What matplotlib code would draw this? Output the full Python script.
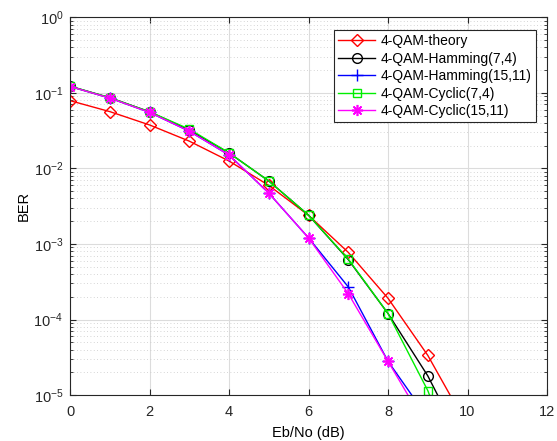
import numpy as np
import matplotlib
matplotlib.use("Agg")
from matplotlib import pyplot as plt
from matplotlib.ticker import LogLocator, NullFormatter

plt.rcParams['font.family'] = ['Liberation Sans', 'DejaVu Sans']

ebno = [0, 1, 2, 3, 4, 5, 6, 7, 8, 9, 10]

theory = [0.0786, 0.0563, 0.0375, 0.0229, 0.0125, 0.00595, 0.00239, 0.000773, 0.000191, 3.36e-5, 3.9e-6]
ham74 = [0.122, 0.086, 0.056, 0.032, 0.016, 0.0068, 0.0024, 0.00062, 0.00012, 1.8e-5, 1.7e-6]
ham1511 = [0.121, 0.085, 0.055, 0.031, 0.015, 0.0047, 0.0012, 0.00027, 2.8e-5, 5e-6, 6e-7]
cyc74 = [0.122, 0.086, 0.056, 0.033, 0.016, 0.0068, 0.0024, 0.00063, 0.00012, 1.15e-5, 5e-7]
cyc1511 = [0.121, 0.085, 0.055, 0.031, 0.015, 0.0047, 0.0012, 0.00022, 2.8e-5, 3.6e-6, 4e-7]

fig = plt.figure(figsize=(5.57, 4.41), dpi=100)
ax = fig.add_axes([0.126, 0.104, 0.856, 0.857])

ax.semilogy(ebno, theory, color='red', marker='D', mfc='none', ms=6.5, lw=1, label='4-QAM-theory')
ax.semilogy(ebno, ham74, color='black', marker='o', mfc='none', ms=7, lw=1, label='4-QAM-Hamming(7,4)')
ax.semilogy(ebno, ham1511, color='blue', marker='+', ms=8, lw=1, label='4-QAM-Hamming(15,11)')
ax.semilogy(ebno, cyc74, color='#00ee00', marker='s', mfc='none', ms=6, lw=1, label='4-QAM-Cyclic(7,4)')
ax.semilogy(ebno, cyc1511, color='magenta', marker=(8, 2, 0), ms=8, mew=1.2, lw=1, label='4-QAM-Cyclic(15,11)')

ax.set_xlim(0, 12)
ax.set_ylim(1e-5, 1)
ax.set_xticks([0, 2, 4, 6, 8, 10, 12])
ax.yaxis.set_major_locator(LogLocator(base=10, numticks=10))
ax.yaxis.set_minor_locator(LogLocator(base=10, subs=np.arange(2, 10), numticks=20))
ax.yaxis.set_minor_formatter(NullFormatter())

ax.grid(True, which='major', color='#dcdcdc', lw=0.8)
ax.grid(True, which='minor', axis='y', color='#c8c8c8', lw=0.6, ls=(0, (1, 3)))
ax.set_axisbelow(True)

ax.tick_params(which='both', direction='in', top=True, right=True, labelsize=10.5, colors='#262626')
ax.tick_params(which='major', length=4)
ax.tick_params(which='minor', length=2)
ax.tick_params(axis='x', pad=7)
ax.tick_params(axis='y', pad=5)
for s in ax.spines.values():
    s.set_color('#262626')
    s.set_linewidth(0.8)

ax.set_xlabel('Eb/No (dB)', fontsize=10.5, labelpad=5)
ax.set_ylabel('BER', fontsize=10.5, labelpad=2)

leg = ax.legend(loc='upper right', bbox_to_anchor=(0.977, 0.966), borderaxespad=0, fontsize=10,
                fancybox=False, edgecolor='#262626', framealpha=1, handlelength=2.7, borderpad=0.3,
                labelspacing=0.25, handletextpad=0.4)
leg.get_frame().set_linewidth(0.8)

fig.savefig('out.png', dpi=100)
